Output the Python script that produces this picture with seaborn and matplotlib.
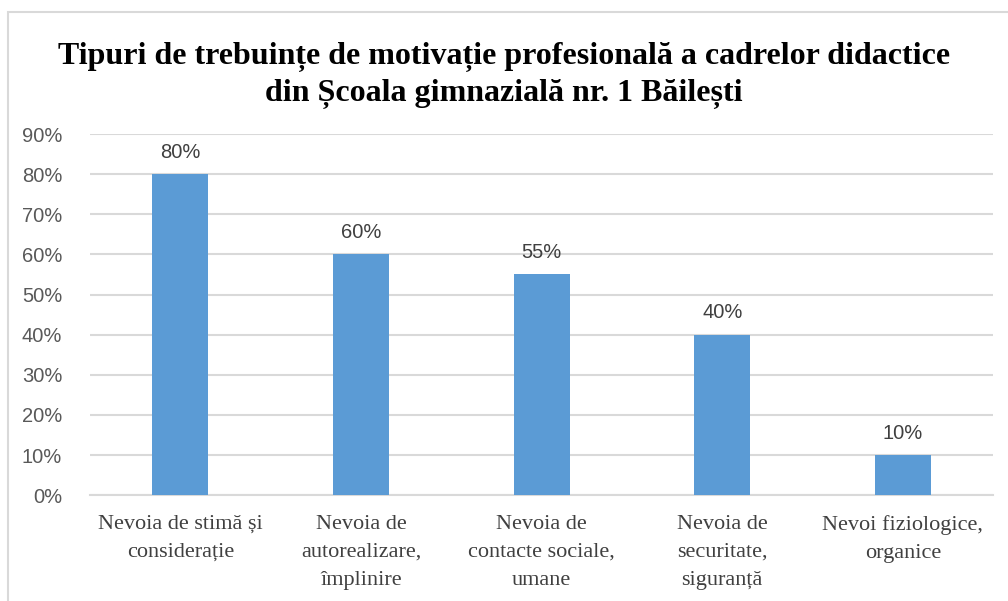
import matplotlib.pyplot as plt
import matplotlib.patches as mpatches
from matplotlib.ticker import PercentFormatter
import seaborn as sns
import pandas as pd

# ─── Data ────────────────────────────────────────────────────────────────────
categories = [
    "Nevoia de stimă și\nconsiderație",
    "Nevoia de\nautorealizare,\nîmplinire",
    "Nevoia de\ncontacte sociale,\numane",
    "Nevoia de\nsecuritate,\nsiguranță",
    "Nevoi fiziologice,\norganice",
]
values = [80, 60, 55, 40, 10]
y_ticks = [0, 10, 20, 30, 40, 50, 60, 70, 80, 90]
title = ("Tipuri de trebuințe de motivație profesională a cadrelor didactice\n"
         "din Școala gimnazială nr. 1 Băilești")

BAR_COLOR = "#5B9BD5"
GRID_COLOR = "#D9D9D9"

sns.set_theme(style="white")
plt.rcParams["font.family"] = ["Liberation Sans", "DejaVu Sans"]

df = pd.DataFrame({"cat": categories, "val": values})

fig = plt.figure(figsize=(10.08, 6.01), dpi=100)
ax = fig.add_axes([0.0893, 0.176, 0.896, 0.601])

sns.barplot(data=df, x="cat", y="val", color=BAR_COLOR, width=0.31,
            saturation=1, ax=ax, zorder=3, linewidth=0)

ax.set_ylim(0, 90)
ax.set_yticks(y_ticks)
ax.yaxis.set_major_formatter(PercentFormatter(decimals=0))
ax.grid(axis="y", color=GRID_COLOR, linewidth=1.5, zorder=0)
ax.set_axisbelow(True)
for side in ["top", "right", "left"]:
    ax.spines[side].set_visible(False)
ax.spines["bottom"].set_color(GRID_COLOR)
ax.spines["bottom"].set_linewidth(1.5)
ax.tick_params(axis="both", length=0)
ax.tick_params(axis="y", labelsize=14.5, labelcolor="#595959", pad=20)
ax.set_xlabel("")
ax.set_ylabel("")

for lbl in ax.get_xticklabels():
    lbl.set_fontfamily("Liberation Serif")
    lbl.set_fontsize(16)
    lbl.set_color("#404040")
    lbl.set_linespacing(1.65)
    lbl.set_verticalalignment("top")
ax.tick_params(axis="x", pad=14)

for c in ax.containers:
    ax.bar_label(c, labels=[f"{v}%" for v in values], padding=9,
                 fontsize=14.5, color="#404040")

fig.suptitle(title, fontfamily="Liberation Serif", fontweight="bold",
             fontsize=23, y=0.93, linespacing=1.3, color="black")

# outer chart border (cropped at right and bottom like the original)
fig.patches.append(mpatches.Rectangle((8 / 1008, -0.05), 1.1, 1.05 - 12 / 601,
                                      transform=fig.transFigure, fill=False,
                                      edgecolor=GRID_COLOR, linewidth=1.5))

fig.savefig("out.png", dpi=100)
